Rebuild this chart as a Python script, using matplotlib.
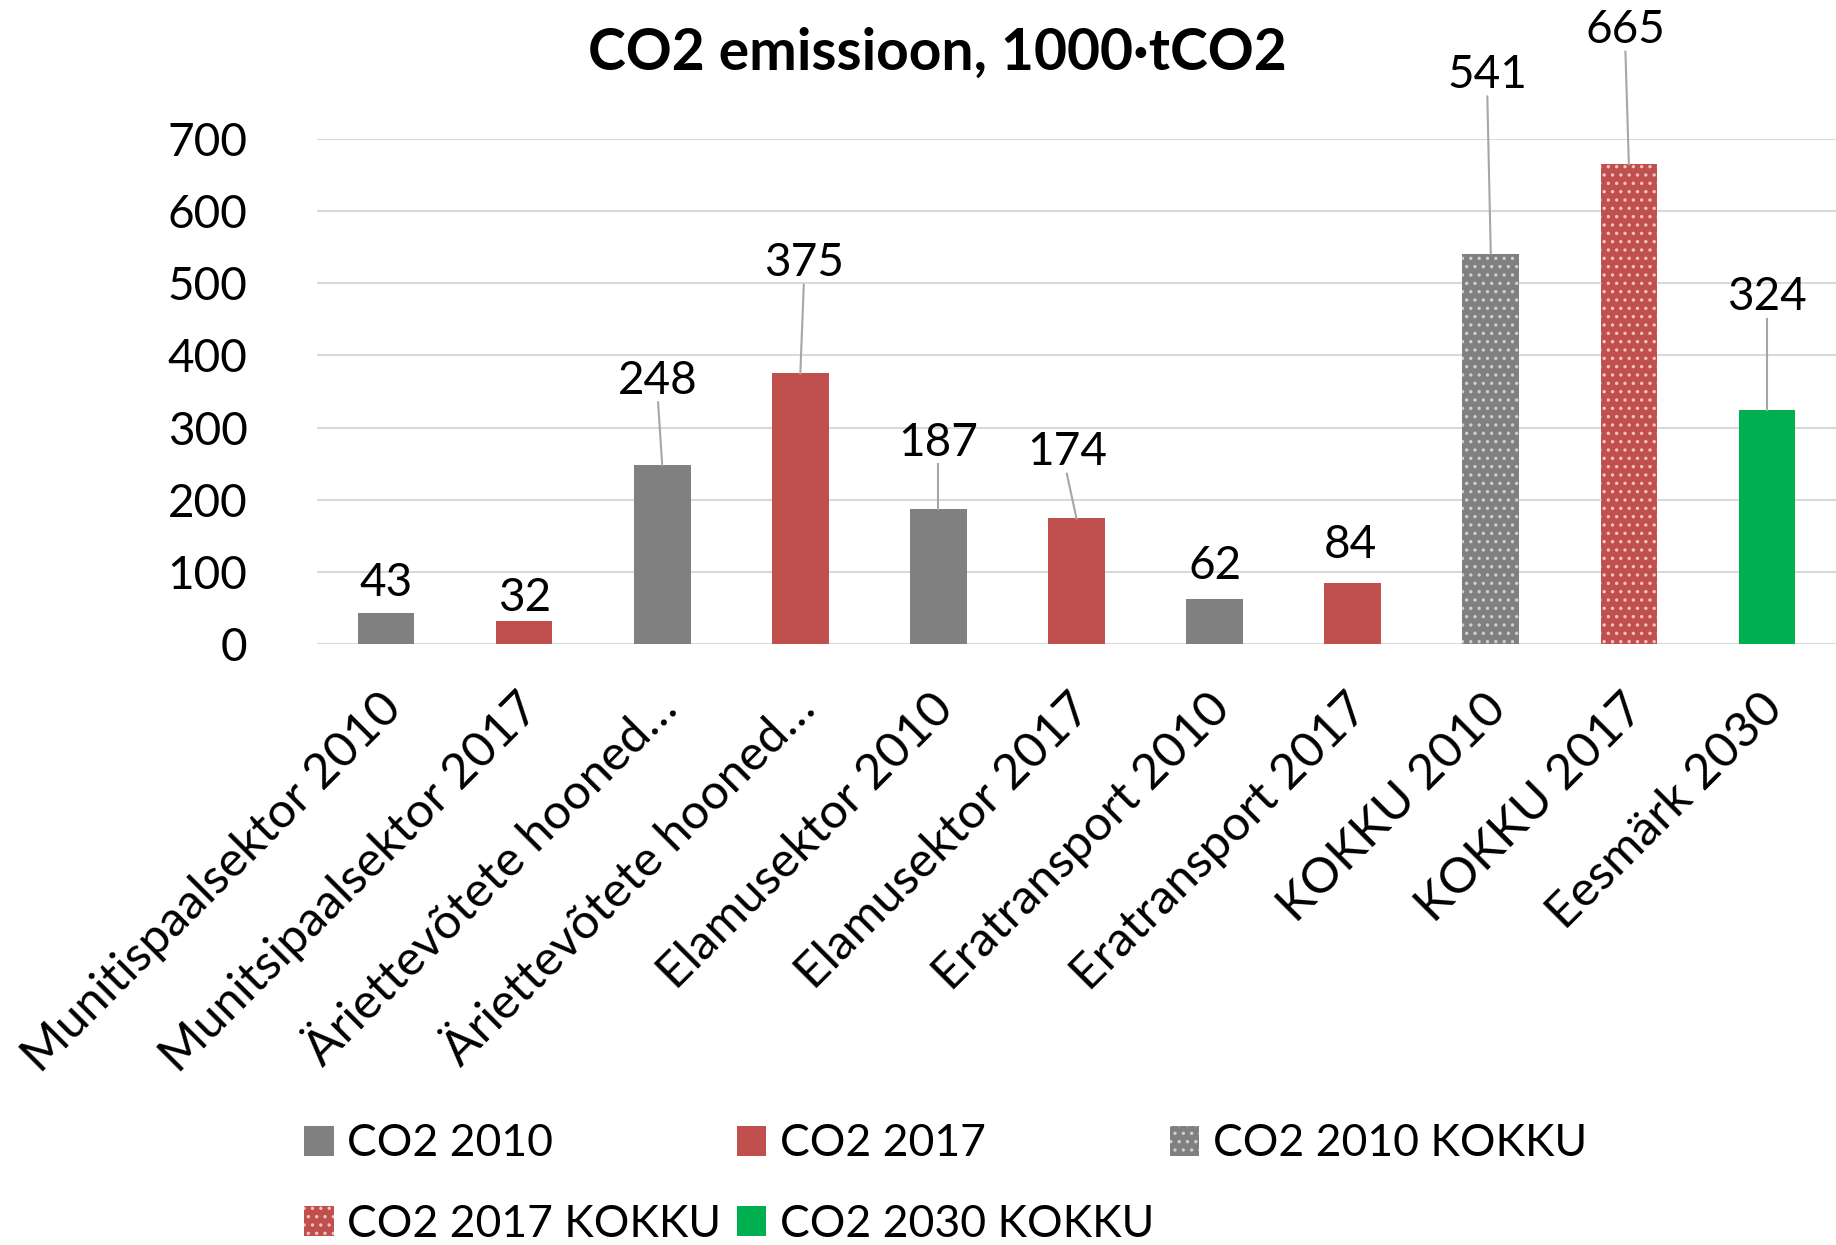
import matplotlib
matplotlib.use("Agg")
import matplotlib.pyplot as plt
import matplotlib.patches as mpatches
import matplotlib.transforms as mtransforms

plt.rcParams['font.family'] = ['Lato', 'DejaVu Sans']
plt.rcParams['hatch.linewidth'] = 1.2

categories = [
    "Munitispaalsektor 2010", "Munitsipaalsektor 2017",
    "Äriettevõtete hooned…", "Äriettevõtete hooned…",
    "Elamusektor 2010", "Elamusektor 2017",
    "Eratransport 2010", "Eratransport 2017",
    "KOKKU 2010", "KOKKU 2017", "Eesmärk 2030",
]
values = [43, 32, 248, 375, 187, 174, 62, 84, 541, 665, 324]
series = ["CO2 2010", "CO2 2017", "CO2 2010", "CO2 2017", "CO2 2010", "CO2 2017",
          "CO2 2010", "CO2 2017", "CO2 2010 KOKKU", "CO2 2017 KOKKU", "CO2 2030 KOKKU"]
legend_order = ["CO2 2010", "CO2 2017 KOKKU", "CO2 2017", "CO2 2030 KOKKU", "CO2 2010 KOKKU"]

# label placement (data units), moved as in the original chart
label_y = [85, 64, 365, 528, 279, 266, 108, 137, 789, 851, 481]
label_dx = [0, 0, -0.03, 0.025, 0, -0.07, 0, -0.02, -0.025, -0.025, 0]

styles = {
    "CO2 2010": dict(color="#808080", hatch=None, dots=None),
    "CO2 2017": dict(color="#C0504D", hatch=None, dots=None),
    "CO2 2010 KOKKU": dict(color="#808080", hatch="..", dots="#d0d0d0"),
    "CO2 2017 KOKKU": dict(color="#C0504D", hatch="..", dots="#f2c4c3"),
    "CO2 2030 KOKKU": dict(color="#00B050", hatch=None, dots=None),
}

fig = plt.figure(figsize=(18.36, 12.45), dpi=100)
ax = fig.add_axes([317 / 1836, 1 - 644 / 1245, 1 - 317 / 1836, (644 - 139) / 1245])

x = list(range(len(values)))
for xi, v, s in zip(x, values, series):
    st = styles[s]
    if st["hatch"]:
        ax.bar(xi, v, width=0.41, facecolor=st["color"], edgecolor=st["dots"],
               hatch=st["hatch"], linewidth=0, zorder=2)
    else:
        ax.bar(xi, v, width=0.41, color=st["color"], linewidth=0, zorder=2)

for xi, v, ly, dx in zip(x, values, label_y, label_dx):
    ax.text(xi + dx, ly, str(v), ha="center", va="center", fontsize=33, zorder=4)
    bottom = ly - 30
    if bottom - v > 30:
        ax.plot([xi + dx, xi], [bottom, v], color="#a6a6a6", lw=1.5, zorder=3,
                clip_on=False)

ax.set_xlim(-0.5, 10.5)
ax.set_ylim(0, 700)
ax.set_yticks(range(0, 701, 100))
ax.yaxis.grid(True, color="#d9d9d9", lw=1.5, zorder=0)
ax.set_axisbelow(True)
for sp in ax.spines.values():
    sp.set_visible(False)
ax.tick_params(axis="y", length=0, pad=50, labelsize=33)
ax.tick_params(axis="x", length=0, pad=30, labelsize=35.5)
ax.set_xticks(x)
ax.set_xticklabels(categories, rotation=45, ha="right", rotation_mode="anchor")
shift = mtransforms.ScaledTranslation(-0.08, 0, fig.dpi_scale_trans)
for lab in ax.get_xticklabels():
    lab.set_transform(lab.get_transform() + shift)

fig.text(937 / 1836, 1 - 53 / 1245, "CO2 emissioon, 1000·tCO2", ha="center", va="center",
         fontsize=41, fontweight="bold")

handles = []
for name in legend_order:
    st = styles[name]
    if st["hatch"]:
        h = mpatches.Patch(facecolor=st["color"], edgecolor=st["dots"], hatch=st["hatch"],
                           linewidth=0, label=name)
    else:
        h = mpatches.Patch(facecolor=st["color"], linewidth=0, label=name)
    handles.append(h)
fig.legend(handles=handles, loc="center left", bbox_to_anchor=(304 / 1836, 1 - 1184 / 1245),
           ncol=3, frameon=False, fontsize=32, handlelength=0.67, handleheight=0.67,
           handletextpad=0.3, columnspacing=0.35, labelspacing=0.88, borderpad=0,
           borderaxespad=0)

fig.savefig("out.png", dpi=100)
